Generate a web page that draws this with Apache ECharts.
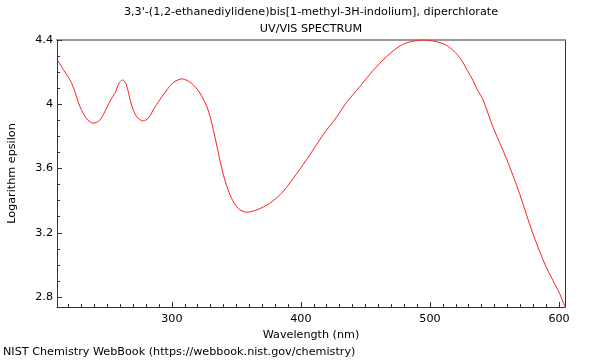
<!DOCTYPE html>
<html><head><meta charset="utf-8">
<script src="https://cdn.jsdelivr.net/npm/echarts@6/dist/echarts.min.js"></script>
<style>html,body{margin:0;padding:0;background:#fff}#c{width:600px;height:360px}</style>
</head><body><div id="c"></div>
<script>
const titleLines = ["3,3'-(1,2-ethanediylidene)bis[1-methyl-3H-indolium], diperchlorate", "UV/VIS SPECTRUM"];
const footer = "NIST Chemistry WebBook (https://webbook.nist.gov/chemistry)";
const xName = "Wavelength (nm)";
const yName = "Logarithm epsilon";
const wavelength = [211,216,222.4,228.8,234,239.1,244.3,249,253.3,255.9,259,261.8,264.4,268.8,272.7,277.8,281.7,286.8,293.3,301,308,315.2,321.7,328.1,333.3,337.2,341,346.2,351.3,357.8,365.6,375.9,386.1,396.5,406.8,417.1,427.5,435.2,445.5,455.8,466.2,475.2,483,494.5,504.9,512,518,524,529,533.2,537,541,548.7,559.1,569.3,579.6,589.9,600.3,604.5];
const logEps = [4.28,4.215,4.13,3.985,3.91,3.882,3.902,3.97,4.037,4.068,4.13,4.151,4.13,3.995,3.923,3.896,3.913,3.981,4.058,4.134,4.158,4.13,4.07,3.964,3.798,3.653,3.529,3.415,3.353,3.328,3.342,3.384,3.456,3.566,3.684,3.809,3.919,4.01,4.109,4.209,4.296,4.355,4.385,4.40,4.39,4.37,4.335,4.28,4.21,4.15,4.085,4.03,3.86,3.664,3.446,3.197,2.989,2.824,2.74];
const xMajor = [300,400,500,600];
const xMinor = [220,230,240,250,260,270,280,290,310,320,330,340,350,360,370,380,390,410,420,430,440,450,460,470,480,490,510,520,530,540,550,560,570,580,590];
const yMajor = [2.8,3.2,3.6,4.0,4.4];
const yMinor = [2.9,3.0,3.1,3.3,3.4,3.5,3.7,3.8,3.9,4.1,4.2,4.3];
const xMin = 211, xMax = 604.6, yMin = 2.738, yMax = 4.4;

const font = 'DejaVu Sans';
const fs = 11.2;
const dark = '#333';
const chart = echarts.init(document.getElementById('c'), null, {renderer: 'canvas'});
const baseX = {type:'value', min:xMin, max:xMax, splitLine:{show:false}};
const baseY = {type:'value', min:yMin, max:yMax, splitLine:{show:false}};
const tStyle = {fontFamily:font,fontSize:fs,fontWeight:'normal',color:'#000'};
chart.setOption({
  animation:false,
  textStyle:{fontFamily:font},
  title:[
    {text:titleLines[0], left:311, top:7, padding:0, textAlign:'center', textStyle:tStyle},
    {text:titleLines[1], left:311, top:24, padding:0, textAlign:'center', textStyle:tStyle},
    {text:footer, left:3, top:347, padding:0, textStyle:tStyle}
  ],
  grid:{left:57, right:35, top:40, bottom:53, containLabel:false, outerBoundsMode:'none'},
  xAxis:[
    Object.assign({}, baseX, {position:'bottom', name:xName, nameLocation:'middle', nameGap:18,
      nameTextStyle:{fontFamily:font,fontSize:fs,color:'#000',verticalAlign:'top'},
      axisLine:{show:true,lineStyle:{color:dark,width:1}},
      axisTick:{show:true,inside:true,length:5,customValues:xMajor,lineStyle:{color:dark}},
      axisLabel:{show:true,customValues:xMajor,fontFamily:font,fontSize:fs,color:'#000',margin:7}}),
    Object.assign({}, baseX, {position:'bottom',
      axisLine:{show:false},
      axisTick:{show:true,inside:true,length:3,customValues:xMinor,lineStyle:{color:dark}},
      axisLabel:{show:false}}),
    Object.assign({}, baseX, {position:'top',
      axisLine:{show:true,lineStyle:{color:'#999',width:2}},
      axisTick:{show:false}, axisLabel:{show:false}})
  ],
  yAxis:[
    Object.assign({}, baseY, {position:'left', name:yName, nameLocation:'middle', nameGap:39, nameRotate:90,
      nameTextStyle:{fontFamily:font,fontSize:fs,color:'#000'},
      axisLine:{show:true,lineStyle:{color:dark,width:1}},
      axisTick:{show:true,inside:true,length:5,customValues:yMajor,lineStyle:{color:dark}},
      axisLabel:{show:true,customValues:yMajor,fontFamily:font,fontSize:fs,color:'#000',margin:4,
        formatter:v=>String(Math.round(v*10)/10)}}),
    Object.assign({}, baseY, {position:'left',
      axisLine:{show:false},
      axisTick:{show:true,inside:true,length:3,customValues:yMinor,lineStyle:{color:dark}},
      axisLabel:{show:false}}),
    Object.assign({}, baseY, {position:'right',
      axisLine:{show:true,lineStyle:{color:dark,width:1}},
      axisTick:{show:false}, axisLabel:{show:false}})
  ],
  series:[{
    type:'line', xAxisIndex:0, yAxisIndex:0,
    data: wavelength.map((w,i)=>[w, logEps[i]]),
    smooth:0.3, showSymbol:false, symbol:'none',
    lineStyle:{color:'#ff2020', width:1},
    clip:true
  }]
});
</script>
</body></html>
